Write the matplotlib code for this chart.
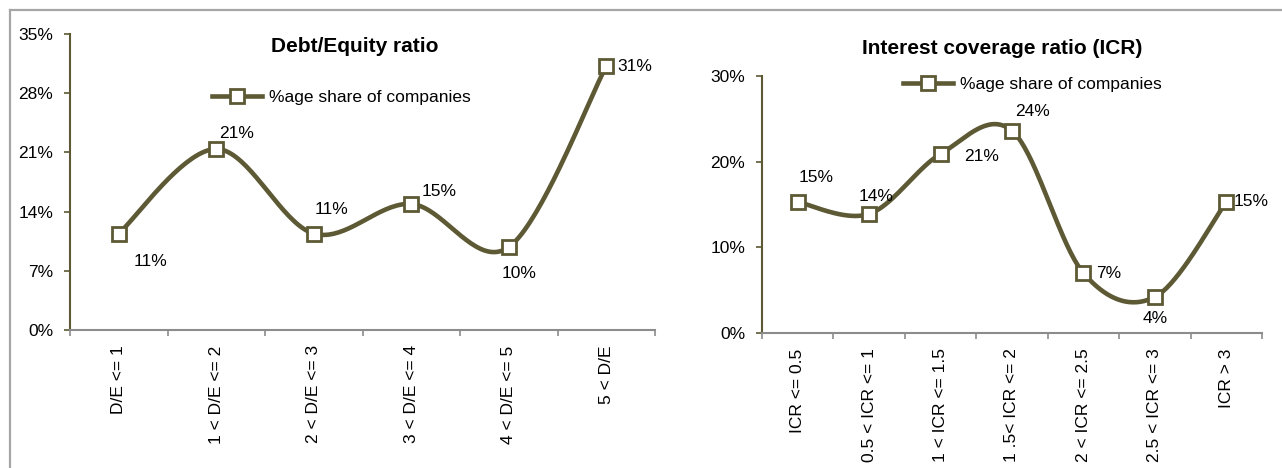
import matplotlib
matplotlib.use("Agg")
import matplotlib.pyplot as plt
from matplotlib.lines import Line2D
import numpy as np

# data
de_labels = ["D/E <= 1", "1 < D/E <= 2", "2 < D/E <= 3", "3 < D/E <= 4",
             "4 < D/E <= 5", "5 < D/E"]
de_share = [11.4, 21.4, 11.4, 14.9, 9.8, 31.2]

icr_labels = ["ICR <= 0.5", "0.5 < ICR <= 1", "1 < ICR <= 1.5", "1 .5< ICR <= 2",
              "2 < ICR <= 2.5", "2.5 < ICR <= 3", "ICR > 3"]
icr_share = [15.3, 13.9, 20.9, 23.6, 7.0, 4.2, 15.3]

series_name = "%age share of companies"

# label offsets in pixels (dx right, dy down) from each marker
de_offsets = [(32, 28), (20, -16), (18, -24), (28, -12), (10, 26), (29, 0)]
icr_offsets = [(18, -24), (7, -17), (41, 3), (20, -19), (25, 0), (0, 21), (25, 0)]

OLIVE = "#5C5934"
GREY = "#8C8C8C"
FS = 12.5
plt.rcParams["font.family"] = ["Liberation Sans", "DejaVu Sans"]


def smooth(xs, ys, n=40):
    # Excel style smoothed line: cubic bezier with catmull-rom control points
    pts = np.column_stack([xs, ys]).astype(float)
    ext = np.vstack([pts[0], pts, pts[-1]])
    out = []
    t = np.linspace(0, 1, n)[:, None]
    for i in range(1, len(ext) - 2):
        p0, p1, p2, p3 = ext[i - 1], ext[i], ext[i + 1], ext[i + 2]
        c1 = p1 + (p2 - p0) / 6.0
        c2 = p2 - (p3 - p1) / 6.0
        seg = ((1 - t) ** 3) * p1 + 3 * ((1 - t) ** 2) * t * c1 \
            + 3 * (1 - t) * t ** 2 * c2 + t ** 3 * p2
        out.append(seg)
    curve = np.vstack(out)
    return curve[:, 0], curve[:, 1]


def draw(ax, labels, values, offsets, ymax, ystep):
    n = len(labels)
    x = np.arange(n) + 0.5
    cx, cy = smooth(x, values)
    ax.plot(cx, cy, color=OLIVE, lw=3.3, solid_capstyle="round", zorder=2)
    ax.plot(x, values, ls="none", marker="s", ms=10.5, mfc="white",
            mec=OLIVE, mew=2.0, zorder=3)
    for xi, v, (dx, dy) in zip(x, values, offsets):
        ax.annotate(f"{v:.0f}%", (xi, v), xytext=(dx * 0.72, -dy * 0.72),
                    textcoords="offset points", ha="center", va="center",
                    fontsize=FS)
    ax.set_xlim(0, n)
    ax.set_ylim(0, ymax)
    yt = np.arange(0, ymax + 0.01, ystep)
    ax.set_yticks(yt)
    ax.set_yticklabels([f"{v:.0f}%" for v in yt], fontsize=FS)
    ax.set_xticks(x)
    ax.set_xticklabels(labels, rotation=90, fontsize=FS, va="top")
    ax.set_xticks(np.arange(n + 1), minor=True)
    ax.tick_params(axis="x", which="major", length=0, pad=11)
    ax.tick_params(axis="x", which="minor", length=4, color=GREY, width=1.2)
    ax.tick_params(axis="y", length=4, color=OLIVE, width=1.2, pad=8)
    for s in ("top", "right"):
        ax.spines[s].set_visible(False)
    ax.spines["left"].set_color(OLIVE)
    ax.spines["left"].set_linewidth(1.5)
    ax.spines["bottom"].set_color(GREY)
    ax.spines["bottom"].set_linewidth(1.5)


W, H = 1282, 468
fig = plt.figure(figsize=(W / 100, H / 100), dpi=100)

ax1 = fig.add_axes([70 / W, 1 - 330 / H, 585 / W, 296 / H])
draw(ax1, de_labels, de_share, de_offsets, 35, 7)

ax2 = fig.add_axes([762 / W, 1 - 333 / H, 500 / W, 257 / H])
draw(ax2, icr_labels, icr_share, icr_offsets, 30, 10)

fig.text(355 / W, 1 - 46 / H, "Debt/Equity ratio", ha="center", va="center",
         fontsize=15, fontweight="bold")
fig.text(1002 / W, 1 - 49 / H, "Interest coverage ratio (ICR)", ha="center",
         va="center", fontsize=15, fontweight="bold")

handle = Line2D([], [], color=OLIVE, lw=3.3, marker="s", ms=10.5, mfc="white",
                mec=OLIVE, mew=2.0)
for pos in [(212 / W, 1 - 97 / H), (903 / W, 1 - 84 / H)]:
    fig.legend([handle], [series_name], loc="center left", bbox_to_anchor=pos,
               frameon=False, fontsize=FS, handlelength=2.9, handletextpad=0.4,
               borderpad=0, borderaxespad=0, numpoints=1)

# grey frame of the exhibit box
fig.add_artist(Line2D([10 / W, 1], [1 - 10 / H, 1 - 10 / H], color="#A6A6A6",
                      lw=1.6, transform=fig.transFigure))
fig.add_artist(Line2D([10 / W, 10 / W], [0, 1 - 10 / H], color="#A6A6A6",
                      lw=1.6, transform=fig.transFigure))

fig.savefig("out.png", dpi=100)
